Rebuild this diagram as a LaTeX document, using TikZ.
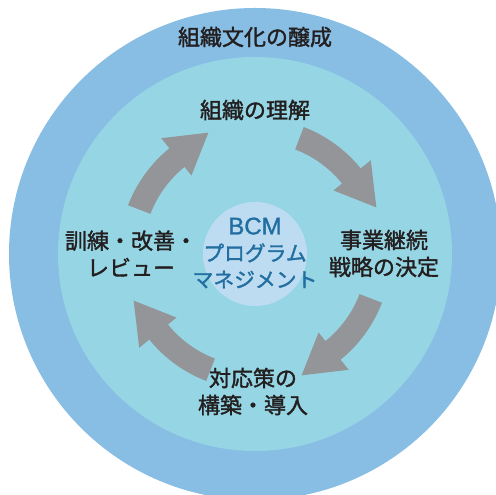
\documentclass[tikz,border=0pt]{standalone}
\usepackage{fontspec}
\newfontfamily\jpfont{Noto Sans CJK JP}[FakeBold=1.6]
\newfontfamily\latinsans{Liberation Sans}[FakeBold=1.2]
\definecolor{outerblue}{HTML}{88BEE4}
\definecolor{innerblue}{HTML}{96D6E4}
\definecolor{coreblue}{HTML}{BDDCF2}
\definecolor{arrowgray}{HTML}{939598}
\definecolor{textblue}{HTML}{226EA0}
\definecolor{textdark}{HTML}{231F20}
\tikzset{
  label text/.style={inner sep=0pt, align=center, text=textdark, font=\jpfont\fontsize{22}{27}\selectfont},
  core text/.style={inner sep=0pt, align=center, text=textblue, font=\jpfont\fontsize{20.8}{26.5}\selectfont},
  cycle arrow/.style={fill=arrowgray, draw=none}
}
\begin{document}
\begin{tikzpicture}[x=1pt,y=1pt]
\useasboundingbox (0,0) rectangle (496,495);
\begin{scope}
\clip (0,0) rectangle (496,495);
\fill[outerblue] (255,241) circle[radius=246];
\end{scope}
\fill[innerblue] (255,241) circle[radius=197];
\fill[coreblue] (255,241) circle[radius=52];
\begin{scope}[shift={(255,241)}]
\foreach \k in {0,1,2,3}{
  \pgfmathsetmacro{\ta}{69-90*\k}
  \pgfmathsetmacro{\hb}{39-90*\k}
  \pgfmathsetmacro{\tp}{21-90*\k}
  \fill[cycle arrow] (\ta:136) arc[start angle=\ta, end angle=\hb, radius=136]
    -- (\hb:149) -- (\tp:130) -- (\hb:101) -- (\hb:112)
    arc[start angle=\hb, end angle=\ta, radius=112] -- cycle;
}
\end{scope}
\node[label text] (culture) at (255,458) {組織文化の醸成};
\node[label text] (understand) at (255,385) {組織の理解};
\node[label text] (strategy) at (384,241.5) {事業継続\\戦略の決定};
\node[label text] (build) at (253,103.5) {対応策の\\構築・導入};
\node[label text] (review) at (131,241.5) {訓練・改善・\\レビュー};
\node[core text] (bcm) at (255,242) {{\latinsans\fontsize{24}{26.5}\selectfont BCM}\\プログラム\\マネジメント};
\end{tikzpicture}
\end{document}
